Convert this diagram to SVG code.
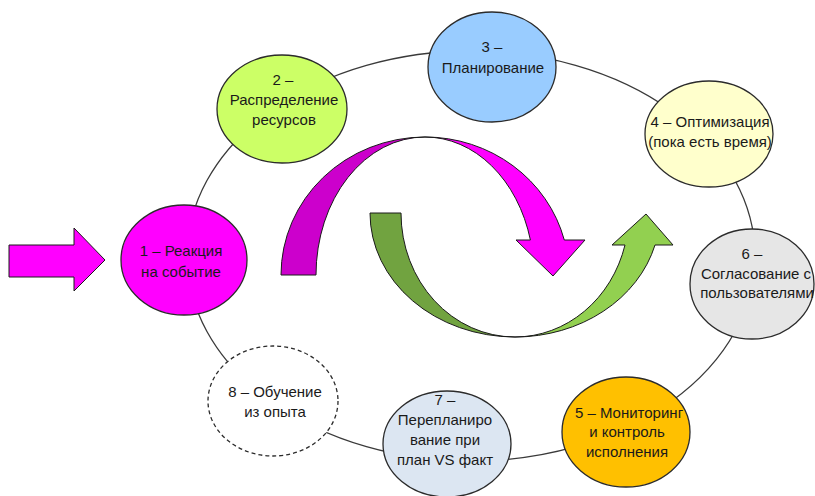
<svg xmlns="http://www.w3.org/2000/svg" width="815" height="496" viewBox="0 0 815 496">
  <style>
    .node { stroke: #2b2b2b; stroke-width: 1.3; }
    .link { fill: none; stroke: #3a3a3a; stroke-width: 1.3; }
    .arrow { stroke: #1a1a1a; stroke-width: 1; stroke-linejoin: miter; }
    text { font-family: "Liberation Sans", Arial, sans-serif; font-size: 15px; fill: #1a1a1a; text-anchor: middle; }
  </style>

  <rect width="815" height="496" fill="#ffffff"/>

  <!-- cycle ring linking the stages -->
  <g id="connectors">
    <ellipse class="link" cx="471" cy="256" rx="284" ry="205"/>
  </g>

  <!-- incoming event arrow -->
  <g id="input-arrow">
    <polygon class="arrow" fill="#ff00ff" points="9,245 74,245 74,228 105,260 74,291 74,277 9,277"/>
  </g>

  <!-- central curved arrows -->
  <g id="curve-magenta">
    <path class="arrow" fill="#cc00cc" d="M 281,275 A 144 138 0 0 1 425,137 A 109 138 0 0 0 316,275 Z"/>
    <path class="arrow" fill="#ff00ff" d="M 425,137 A 144 138 0 0 1 564.3,240 L 585,240 L 553,276 L 516,240 L 530.4,240 A 109 138 0 0 0 425,137 Z"/>
  </g>
  <g id="curve-green">
    <path class="arrow" fill="#71a340" d="M 370,213 A 145 124 0 0 0 515,337 A 114 124 0 0 1 401,213 Z"/>
    <path class="arrow" fill="#92d050" d="M 515,337 A 145 124 0 0 0 655,245 L 673,245 L 646,214 L 612,245 L 625,245 A 114 124 0 0 1 515,337 Z"/>
  </g>

  <g id="node1">
    <ellipse class="node" cx="184" cy="260" rx="63" ry="55" fill="#ff00ff"/>
    <text x="181" y="256">1 – Реакция</text>
    <text x="181" y="277">на событие</text>
  </g>

  <g id="node2">
    <ellipse class="node" cx="282" cy="109" rx="65" ry="54" fill="#ccff66"/>
    <text x="283" y="85">2 –</text>
    <text x="284" y="105">Распределение</text>
    <text x="284" y="125">ресурсов</text>
  </g>

  <g id="node3">
    <ellipse class="node" cx="492" cy="67" rx="64" ry="55" fill="#99ccff"/>
    <text x="492" y="52">3 –</text>
    <text x="493" y="73">Планирование</text>
  </g>

  <g id="node4">
    <ellipse class="node" cx="709" cy="134" rx="64" ry="53" fill="#ffffcc"/>
    <text x="710" y="127">4 – Оптимизация</text>
    <text x="710" y="147">(пока есть время)</text>
  </g>

  <g id="node6">
    <ellipse class="node" cx="752" cy="284" rx="62" ry="55" fill="#e6e6e6"/>
    <text x="752" y="259">6 –</text>
    <text x="756" y="279">Согласование с</text>
    <text x="757" y="298">пользователями</text>
  </g>

  <g id="node5">
    <ellipse class="node" cx="626" cy="432" rx="64" ry="55" fill="#ffc000"/>
    <text x="629" y="418">5 – Мониторинг</text>
    <text x="627" y="437">и контроль</text>
    <text x="627" y="457">исполнения</text>
  </g>

  <g id="node7">
    <ellipse class="node" cx="447" cy="444" rx="64" ry="53" fill="#dce6f2"/>
    <text x="445" y="405">7 –</text>
    <text x="445" y="425">Перепланиро</text>
    <text x="445" y="445">вание при</text>
    <text x="445" y="465">план VS факт</text>
  </g>

  <g id="node8">
    <ellipse class="node" cx="273" cy="401" rx="65" ry="55" fill="#ffffff" stroke-dasharray="4 3"/>
    <text x="275" y="397">8 – Обучение</text>
    <text x="275" y="417">из опыта</text>
  </g>
</svg>
